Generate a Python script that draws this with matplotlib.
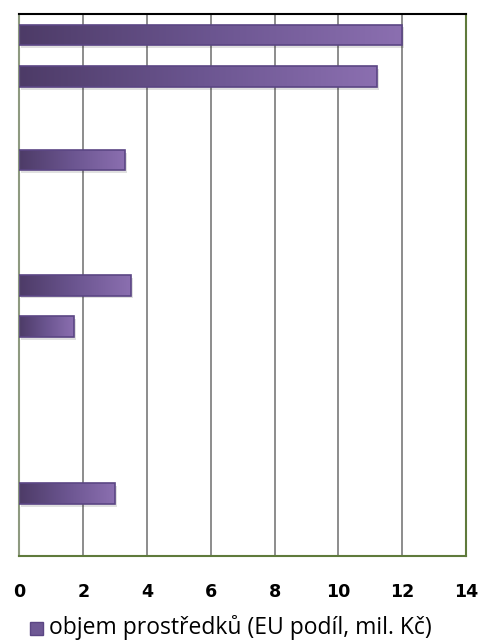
import numpy as np
import matplotlib.pyplot as plt
from matplotlib.colors import LinearSegmentedColormap
from matplotlib.patches import Rectangle

# --- data (top row first) --- #
categories = [f"r{i}" for i in range(13)]
values     = [12.0, 11.2, 0, 3.3, 0, 0, 3.5, 1.7, 0, 0, 0, 3.0, 0]
xticks     = [0, 2, 4, 6, 8, 10, 12, 14]
legend_lbl = "objem prostředků (EU podíl, mil. Kč)"

plt.rcParams['font.family'] = ['Open Sans', 'DejaVu Sans']

fig = plt.figure(figsize=(4.81, 6.4), dpi=100)
ax = fig.add_axes([0.0405, 0.131, 0.9285, 0.847])

cmap = LinearSegmentedColormap.from_list("purp", ["#4d3b67", "#6b5590", "#8b6fb0"])
grad = np.linspace(0, 1, 256).reshape(1, -1)

y = np.arange(len(categories))
for yi, v in zip(y, values):
    if v <= 0:
        continue
    b = ax.barh(yi, v, height=0.5, color="none", edgecolor="#5b4684", linewidth=1.2, zorder=3)[0]
    x0, y0 = b.get_x(), b.get_y()
    w, h = b.get_width(), b.get_height()
    # soft shadow below-right
    ax.add_patch(Rectangle((x0 + 0.06, y0 + 0.07), w, h, facecolor="#000000", alpha=0.12,
                           edgecolor="none", zorder=2))
    im = ax.imshow(grad, extent=[x0, x0 + w, y0 + h, y0], aspect="auto", cmap=cmap,
                   zorder=2.5, interpolation="bilinear")
    im.set_clip_path(b)

ax.set_xlim(0, 14)
ax.set_ylim(len(categories) - 0.5, -0.5)
ax.set_xticks(xticks)
ax.set_xticklabels([str(t) for t in xticks], fontsize=12.6, fontweight="bold",
                   family="DejaVu Sans")
ax.set_yticks([])
ax.tick_params(axis="x", length=0, pad=19)
ax.grid(axis="x", color="#8c8c8c", linewidth=1.4, zorder=1)
ax.set_axisbelow(True)

ax.spines["top"].set_color("#000000")
ax.spines["top"].set_linewidth(1.5)
ax.spines["left"].set_color("#8e9a80")
ax.spines["left"].set_linewidth(1.5)
for s in ["right", "bottom"]:
    ax.spines[s].set_color("#5f7a3c")
    ax.spines[s].set_linewidth(1.5)

# legend
fig.patches.append(Rectangle((0.0624, 0.0078), 0.027, 0.0203, transform=fig.transFigure,
                             facecolor="#6e5894", edgecolor="#5b4684", linewidth=1))
fig.text(0.102, 0.0195, legend_lbl, fontsize=16.5, va="center", ha="left", color="#000000")

fig.savefig("out.png", dpi=100)
